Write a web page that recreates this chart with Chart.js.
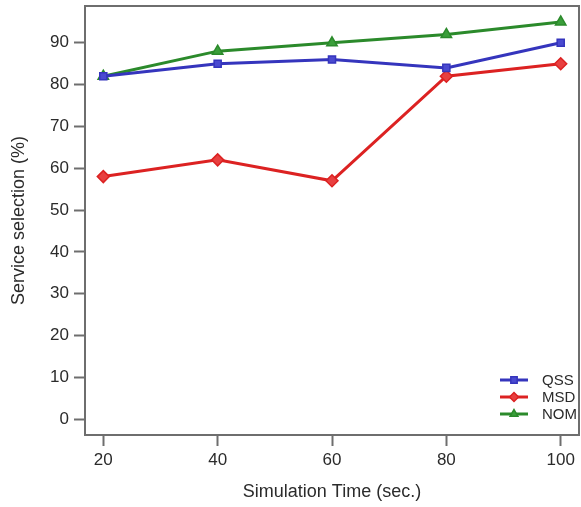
<!DOCTYPE html>
<html>
<head>
<meta charset="utf-8">
<script src="https://cdn.jsdelivr.net/npm/chart.js@4.4.0/dist/chart.umd.min.js"></script>
<style>
html,body{margin:0;padding:0;background:#fff;}
#wrap{width:581px;height:507px;}
</style>
</head>
<body>
<div id="wrap"><canvas id="c" width="581" height="507"></canvas></div>
<script>
const categories = [20, 40, 60, 80, 100];
const qss = [82, 85, 86, 84, 90];
const msd = [58, 62, 57, 82, 85];
const nom = [82, 88, 90, 92, 95];
const yTicks = [0, 10, 20, 30, 40, 50, 60, 70, 80, 90];
const xTicks = [20, 40, 60, 80, 100];
const seriesNames = ['QSS', 'MSD', 'NOM'];

const FONT = "'Liberation Sans', Arial, sans-serif";
const TXT = '#2b2b2b';
const AX = '#6e6e6e';

function pts(vals){ return categories.map((x,i)=>({x:x, y:vals[i]})); }

const colors = ['#3535bd', '#dc2222', '#2b8a2b'];
const fills = ['#4a4ad0', '#e84040', '#3a9e3a'];
const styles = ['rect', 'rectRot', 'triangle'];
const radii = [5, 6, 6];

const ds = [qss, msd, nom].map((v,i)=>({
  label: seriesNames[i],
  data: pts(v),
  borderColor: colors[i],
  backgroundColor: fills[i],
  borderWidth: 3,
  pointStyle: styles[i],
  pointRadius: radii[i],
  pointBorderWidth: 1.5,
  pointBorderColor: colors[i],
  pointBackgroundColor: fills[i],
  tension: 0,
  clip: false
}));

const framePlugin = {
  id: 'frame',
  afterDraw(chart){
    const {ctx, chartArea:a} = chart;
    ctx.save();
    ctx.strokeStyle = AX;
    ctx.lineWidth = 2;
    ctx.strokeRect(a.left, a.top, a.right - a.left, a.bottom - a.top);
    // legend inside plot, bottom right
    const items = chart.data.datasets;
    const x0 = a.right - 79, lineLen = 28;
    const y0 = a.bottom - 55, dy = 17;
    ctx.font = "15px " + FONT;
    ctx.textBaseline = 'middle';
    items.forEach((d,i)=>{
      const y = y0 + i*dy;
      ctx.strokeStyle = d.borderColor;
      ctx.lineWidth = 3;
      ctx.beginPath(); ctx.moveTo(x0, y); ctx.lineTo(x0+lineLen, y); ctx.stroke();
      ctx.fillStyle = d.pointBackgroundColor;
      ctx.strokeStyle = d.pointBorderColor;
      ctx.lineWidth = 1.5;
      Chart.helpers.drawPoint(ctx, {pointStyle: d.pointStyle, radius: 4.5, borderWidth: 1.5}, x0 + lineLen/2, y);
      ctx.fillStyle = TXT;
      ctx.fillText(d.label, x0 + lineLen + 14, y + 1);
    });
    ctx.restore();
  }
};

new Chart(document.getElementById('c'), {
  type: 'line',
  data: { datasets: ds },
  options: {
    responsive: false,
    animation: false,
    layout: { autoPadding: false, padding: { left: 0, right: 2, top: 6, bottom: 0 } },
    plugins: { legend: { display: false }, tooltip: { enabled: false } },
    scales: {
      x: {
        type: 'linear',
        min: 16.8, max: 103.2,
        afterBuildTicks(s){ s.ticks = xTicks.map(v=>({value:v})); },
        afterFit(s){ s.height = 72; s.paddingLeft = 0; s.paddingRight = 0; },
        grid: { drawOnChartArea: false, drawTicks: true, tickLength: 11, tickColor: AX, tickWidth: 2 },
        border: { display: false },
        ticks: { color: TXT, font: { family: FONT, size: 17 }, padding: 4, maxRotation: 0, autoSkip: false },
        title: { display: true, text: 'Simulation Time (sec.)', color: TXT, font: { family: FONT, size: 18 }, padding: { top: 6, bottom: 4 } }
      },
      y: {
        type: 'linear',
        min: -3.8, max: 98.8,
        afterBuildTicks(s){ s.ticks = yTicks.map(v=>({value:v})); },
        afterFit(s){ s.width = 85; s.paddingTop = 0; s.paddingBottom = 0; },
        grid: { drawOnChartArea: false, drawTicks: true, tickLength: 11, tickColor: AX, tickWidth: 2 },
        border: { display: false },
        ticks: { color: TXT, font: { family: FONT, size: 17 }, padding: 5, autoSkip: false },
        title: { display: true, text: 'Service selection (%)', color: TXT, font: { family: FONT, size: 18 }, padding: { top: 8, bottom: 4 } }
      }
    }
  },
  plugins: [framePlugin]
});
</script>
</body>
</html>
